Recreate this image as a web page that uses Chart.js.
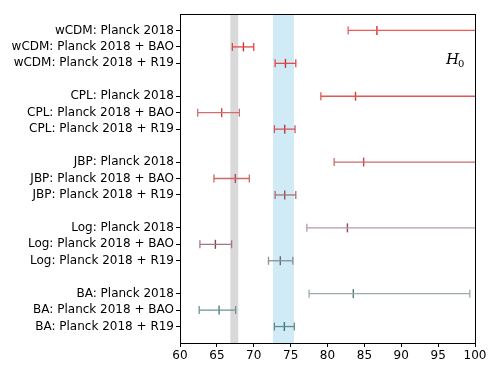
<!DOCTYPE html>
<html><head><meta charset="utf-8">
<script src="https://cdn.jsdelivr.net/npm/chart.js@4"></script>
<style>html,body{margin:0;padding:0;background:#fff}canvas{display:block}</style>
</head><body>
<canvas id="c" width="498" height="374"></canvas>
<script>
const labels = [
  "wCDM: Planck 2018","wCDM: Planck 2018 + BAO","wCDM: Planck 2018 + R19",
  "CPL: Planck 2018","CPL: Planck 2018 + BAO","CPL: Planck 2018 + R19",
  "JBP: Planck 2018","JBP: Planck 2018 + BAO","JBP: Planck 2018 + R19",
  "Log: Planck 2018","Log: Planck 2018 + BAO","Log: Planck 2018 + R19",
  "BA: Planck 2018","BA: Planck 2018 + BAO","BA: Planck 2018 + R19"
];
const rowPos   = [0,1,2, 4,5,6, 8,9,10, 12,13,14, 16,17,18];
const central  = [86.7,68.6,74.3, 83.8,65.65,74.2, 84.9,67.5,74.2, 82.7,64.8,73.6, 83.5,65.3,74.15];
const lower    = [82.8,67.1,72.9, 79.1,62.4,72.8, 80.9,64.6,72.9, 77.2,62.7,72.0, 77.5,62.6,72.8];
const upper    = [102,70.0,75.7, 102,68.05,75.6, 102,69.4,75.7, 102,67.0,75.3, 99.3,67.55,75.5];
const lineColors = ["#ee5a5a","#e24848","#e04a4a","#e25656","#cf7070","#d05a5a","#cc6a6a","#c86a6a","#a87070",
                    "#bc9a9e","#a07a7e","#8a9098","#9aacac","#6a9494","#5e8e8e"];
const markColors = ["#dd2a2a","#d42a2a","#d03030","#d83a3a","#c04848","#c03a3a","#c04848","#b84848","#905058",
                    "#8a4a5a","#7a4a52","#6a6a72","#4e7a7a","#4a7e7e","#3e7676"];
const bandLCDM = [66.82, 67.90];
const bandR19  = [72.61, 75.45];
const xTicks = [60,65,70,75,80,85,90,95,100];

const datasets = labels.map((l,i)=>({
  type:'line',
  data:[{x:lower[i],y:rowPos[i]},{x:upper[i],y:rowPos[i]}],
  borderColor:lineColors[i], borderWidth:1.3, showLine:true,
  pointStyle:'line', rotation:90, pointRadius:4, pointBorderColor:lineColors[i],
  pointBorderWidth:1.3, pointHoverRadius:4, fill:false, tension:0
}));
datasets.push({
  type:'scatter',
  data: central.map((c,i)=>({x:c,y:rowPos[i]})),
  pointStyle:'line', rotation:90, pointRadius:4.5, pointBorderWidth:1.4,
  pointBorderColor: markColors, borderColor: markColors, showLine:false
});

const bandPlugin = {
  id:'bands',
  beforeDatasetsDraw(chart){
    const {ctx, chartArea:a, scales:{x}} = chart;
    ctx.save();
    ctx.fillStyle = '#d9d9d9';
    ctx.fillRect(x.getPixelForValue(bandLCDM[0]), a.top, x.getPixelForValue(bandLCDM[1])-x.getPixelForValue(bandLCDM[0]), a.bottom-a.top);
    ctx.fillStyle = '#d0eaf6';
    ctx.fillRect(x.getPixelForValue(bandR19[0]), a.top, x.getPixelForValue(bandR19[1])-x.getPixelForValue(bandR19[0]), a.bottom-a.top);
    ctx.restore();
  },
  afterDraw(chart){
    const {ctx, chartArea:a} = chart;
    ctx.save();
    ctx.strokeStyle='#000'; ctx.lineWidth=1;
    ctx.strokeRect(Math.round(a.left)+0.5, Math.round(a.top)+0.5, Math.round(a.right-a.left), Math.round(a.bottom-a.top));
    ctx.fillStyle='#000';
    ctx.font='italic 15px "DejaVu Serif"';
    ctx.textBaseline='alphabetic';
    ctx.fillText('H', 446, 64);
    const w = ctx.measureText('H').width;
    ctx.font='10px "DejaVu Serif"';
    ctx.fillText('0', 446+w-1, 67);
    ctx.restore();
  }
};

new Chart(document.getElementById('c'), {
  data:{datasets},
  options:{
    responsive:false, animation:false, devicePixelRatio:1,
    layout:{padding:{left:0,right:23,top:14,bottom:0}},
    plugins:{legend:{display:false}, tooltip:{enabled:false}},
    scales:{
      x:{type:'linear', min:60, max:100,
        afterBuildTicks(s){ s.ticks = xTicks.map(v=>({value:v})); },
        afterFit(s){ s.height = 31; },
        grid:{drawOnChartArea:false, tickLength:4, color:'#000', tickWidth:1},
        border:{display:false},
        ticks:{color:'#000', font:{family:'DejaVu Sans', size:12}, padding:2, maxRotation:0}
      },
      y:{type:'linear', min:-1, max:19, reverse:true,
        afterBuildTicks(s){ s.ticks = rowPos.map(v=>({value:v})); },
        afterFit(s){ s.width = 180; },
        grid:{drawOnChartArea:false, tickLength:4, color:'#000', tickWidth:1},
        border:{display:false},
        ticks:{color:'#000', font:{family:'DejaVu Sans', size:12}, padding:2, autoSkip:false,
          callback(v){ const k = rowPos.indexOf(v); return k>=0 ? labels[k] : ''; }}
      }
    }
  },
  plugins:[bandPlugin]
});
</script>
</body></html>
